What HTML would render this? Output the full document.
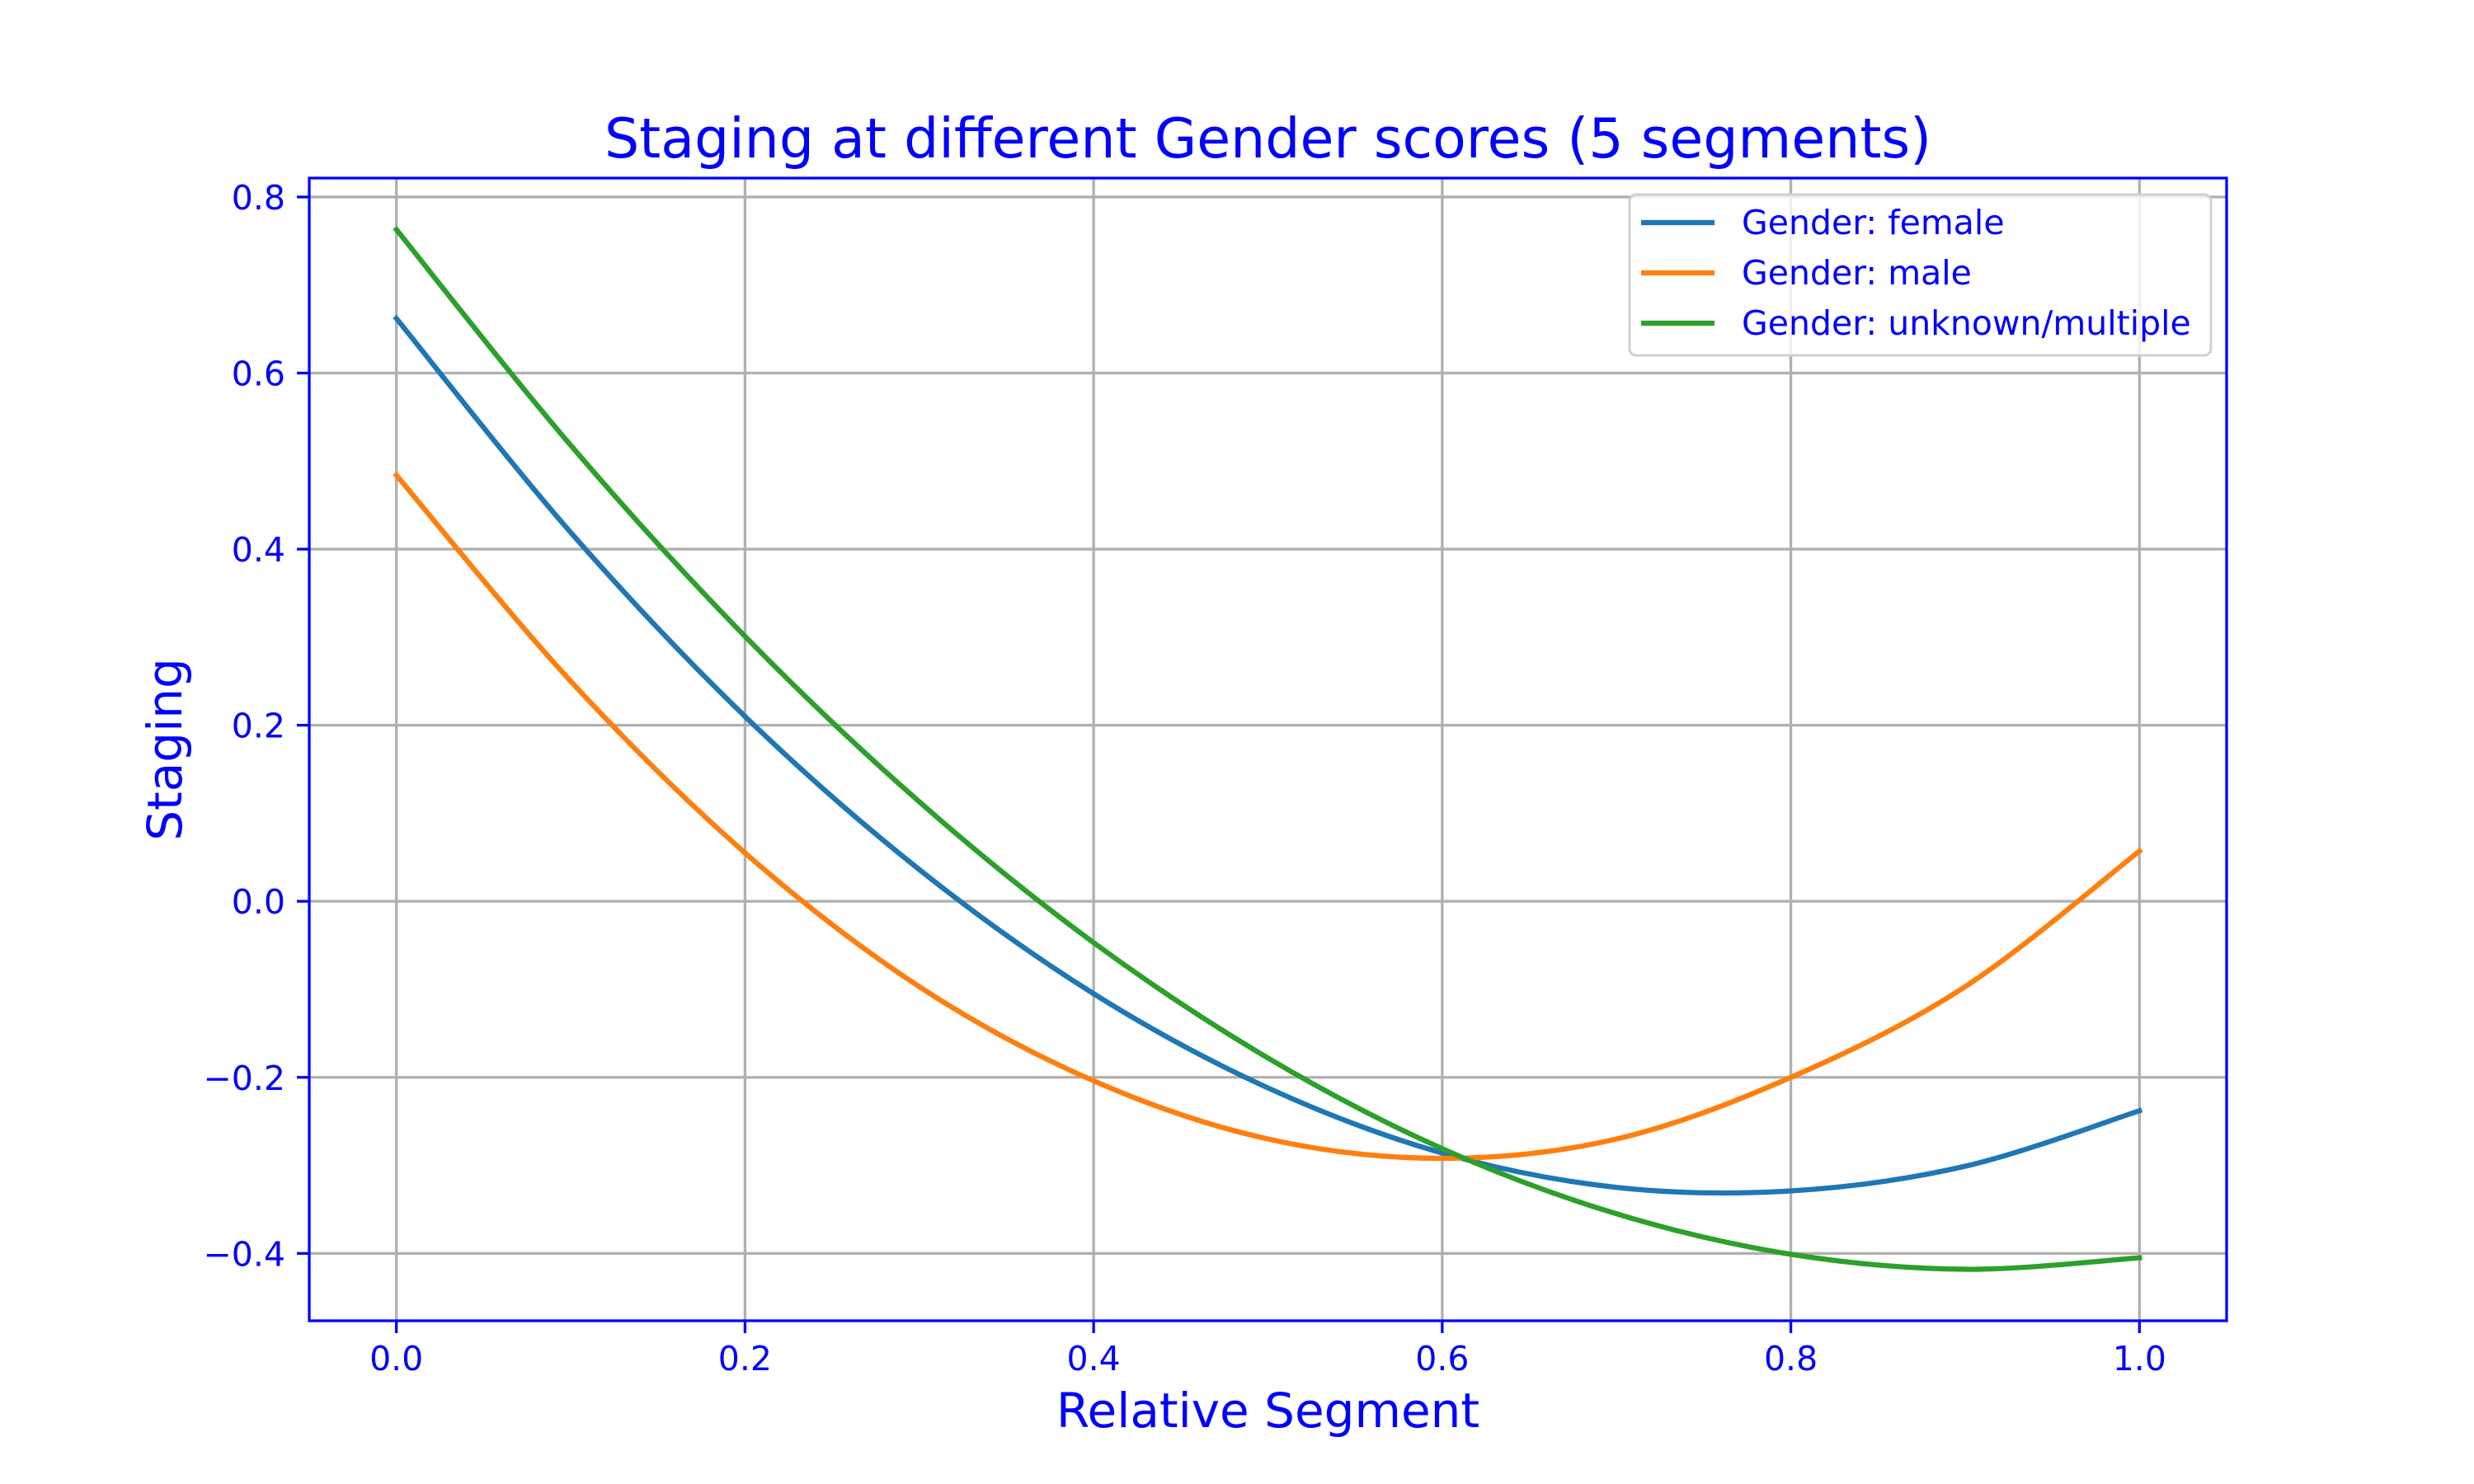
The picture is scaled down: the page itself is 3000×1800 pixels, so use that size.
<!DOCTYPE html>
<html><head><meta charset="utf-8"><style>
html,body{margin:0;padding:0;background:#fff;}
svg{display:block;font-family:"DejaVu Sans","Liberation Sans",sans-serif;}
</style></head><body>
<svg id="chart" width="3000" height="1800" viewBox="0 0 3000 1800" xmlns="http://www.w3.org/2000/svg">
<rect width="3000" height="1800" fill="#fff"/>
<g id="grid"></g>
<g id="series"></g>
<rect x="375" y="216" width="2325" height="1386" fill="none" stroke="#0000ff" stroke-width="3.3"/>
<g id="ticks"></g>
<text x="1537.5" y="191" font-size="66.5" fill="#0000ff" text-anchor="middle">Staging at different Gender scores (5 segments)</text>
<text x="1537.5" y="1731" font-size="58" fill="#0000ff" text-anchor="middle">Relative Segment</text>
<text x="0" y="0" font-size="58" fill="#0000ff" text-anchor="middle" transform="translate(220,909) rotate(-90)">Staging</text>
<g>
<rect x="1976" y="236" width="705" height="195" rx="8" fill="#fff" fill-opacity="0.8" stroke="#d0d0d0" stroke-width="3"/>
<g id="legend-items"></g>
</g>
</svg>
<script>
const xs = [0,0.1,0.2,0.3,0.4,0.5,0.6,0.7,0.8,0.9,1.0];
const female = [0.662,0.419,0.210,0.036,-0.105,-0.212,-0.286,-0.325,-0.329,-0.301,-0.238];
const male = [0.484,0.250,0.055,-0.097,-0.204,-0.270,-0.292,-0.270,-0.200,-0.097,0.057];
const unknown = [0.763,0.518,0.301,0.113,-0.047,-0.178,-0.281,-0.355,-0.401,-0.418,-0.405];
const seriesNames = ["Gender: female","Gender: male","Gender: unknown/multiple"];
const seriesColors = ["#1f77b4","#ff7f0e","#2ca02c"];
const xTicks = [0,0.2,0.4,0.6,0.8,1.0];
const xTickLabels = ["0.0","0.2","0.4","0.6","0.8","1.0"];
const yTicks = [-0.4,-0.2,0,0.2,0.4,0.6,0.8];
const yTickLabels = ["\u22120.4","\u22120.2","0.0","0.2","0.4","0.6","0.8"];

const NS="http://www.w3.org/2000/svg";
const L=375,R=2700,T=216,B=1602;
const xmin=-0.05,xmax=1.05,ymin=-0.4765,ymax=0.8215;
const sx=v=>L+(v-xmin)/(xmax-xmin)*(R-L);
const sy=v=>B-(v-ymin)/(ymax-ymin)*(B-T);
function mk(tag,attrs,parent){const e=document.createElementNS(NS,tag);for(const k in attrs)e.setAttribute(k,attrs[k]);parent.appendChild(e);return e;}
const grid=document.getElementById('grid'),ticks=document.getElementById('ticks');
xTicks.forEach((v,i)=>{
  const g=mk('line',{x1:sx(v),x2:sx(v),y1:T,y2:B,stroke:'#b0b0b0','stroke-width':3.3},grid);
  
  
  const t=mk('line',{x1:sx(v),x2:sx(v),y1:B,y2:B+15,stroke:'#0000ff','stroke-width':3.3},ticks);
  
  
  const l=mk('text',{x:sx(v),y:1662,'font-size':41,fill:'#0000ff','text-anchor':'middle'},ticks);
  l.textContent=xTickLabels[i];
  
  
});
yTicks.forEach((v,i)=>{
  const g=mk('line',{x1:L,x2:R,y1:sy(v),y2:sy(v),stroke:'#b0b0b0','stroke-width':3.3},grid);
  
  
  const t=mk('line',{x1:L-15,x2:L,y1:sy(v),y2:sy(v),stroke:'#0000ff','stroke-width':3.3},ticks);
  
  
  const l=mk('text',{x:L-29,y:sy(v)+15,'font-size':41,fill:'#0000ff','text-anchor':'end'},ticks);
  l.textContent=yTickLabels[i];
  
  
});
function pathFor(ys){
  const P=xs.map((x,i)=>[sx(x),sy(ys[i])]);
  let d=`M${P[0][0]},${P[0][1]}`;
  for(let i=0;i<P.length-1;i++){
    const p0=P[Math.max(0,i-1)],p1=P[i],p2=P[i+1],p3=P[Math.min(P.length-1,i+2)];
    const c1=[p1[0]+(p2[0]-p0[0])/6,p1[1]+(p2[1]-p0[1])/6];
    const c2=[p2[0]-(p3[0]-p1[0])/6,p2[1]-(p3[1]-p1[1])/6];
    d+=` C${c1[0]},${c1[1]} ${c2[0]},${c2[1]} ${p2[0]},${p2[1]}`;
  }
  return d;
}
const seriesEl=document.getElementById('series');
const allData=[female,male,unknown];
const lineNames=['line-female','line-male','line-unknown-multiple'];
allData.forEach((ys,i)=>{
  const p=mk('path',{d:pathFor(ys),fill:'none',stroke:seriesColors[i],'stroke-width':6.25,'stroke-linecap':'square'},seriesEl);
  
  
});
const leg=document.getElementById('legend-items');
const legY=[270,331,392];
seriesNames.forEach((n,i)=>{
  const h=mk('line',{x1:1990,x2:2079,y1:legY[i],y2:legY[i],stroke:seriesColors[i],'stroke-width':6.25},leg);
  
  
  const t=mk('text',{x:2112,y:legY[i]+14,'font-size':41,fill:'#0000ff'},leg);
  t.textContent=n;
  
  
});
</script>
</body></html>
